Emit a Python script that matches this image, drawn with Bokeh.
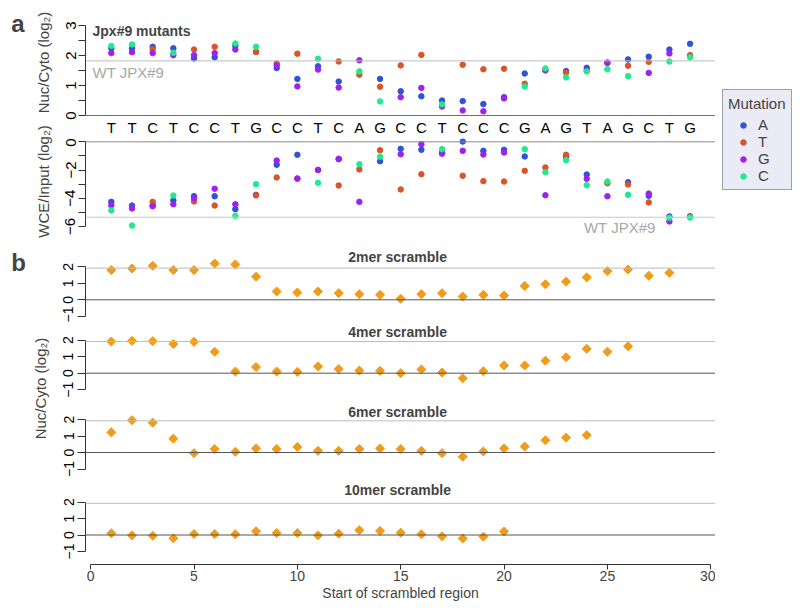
import math
import numpy as np
from bokeh.plotting import figure
from bokeh.models import Range1d, FixedTicker, Span, Label, Legend, LegendItem, LinearAxis
from bokeh.layouts import row, column
from bokeh.embed import file_html
from bokeh.resources import INLINE

FONT = "Liberation Sans"
nan = float("nan")

# ---------------- data ----------------
sequence = list("TTCTCCTGCCTCAGCCTCCCGAGTAGCTG")
positions = list(range(1, len(sequence) + 1))
mutations = ["A", "T", "G", "C"]
mut_colors = ["#2F52D6", "#D9542B", "#A020F0", "#1DEB8C"]

nuc_A = [2.24, 2.24, 2.29, 2.24, 1.90, 1.94, 2.32, 2.12, 1.58, 1.22, 1.64, 1.13, nan, 1.22, 0.81,
         0.64, 0.50, 0.48, 0.38, 0.61, 1.40, nan, 1.48, 1.59, nan, 1.87, 1.96, 2.20, 2.39]
nuc_T = [nan, nan, 2.21, nan, 2.20, 2.29, nan, 2.12, 1.73, 2.06, nan, 1.80, 1.36, 0.96, 1.67,
         2.02, nan, 1.69, 1.54, 1.56, 1.06, 1.50, 1.43, nan, 1.77, 1.66, 1.79, nan, 2.01]
nuc_G = [2.08, 2.11, 2.08, 2.01, 2.01, 2.08, 2.20, nan, 1.67, 0.97, 1.53, 0.93, 1.84, nan, 0.61,
         0.92, 0.30, 0.17, 0.14, 0.57, nan, 1.52, nan, 1.50, 1.75, nan, 1.42, 2.07, nan]
nuc_C = [2.32, 2.37, nan, 2.09, nan, nan, 2.40, 2.29, nan, nan, 1.89, nan, 1.47, 0.47, nan,
         nan, 0.37, nan, nan, nan, 0.97, 1.57, 1.27, 1.47, 1.54, 1.31, nan, 1.80, 1.94]

wce_A = [-4.26, -4.52, -4.50, -4.16, -3.86, -3.86, -4.78, -3.76, -1.63, -0.92, -2.00, -1.23, nan, -1.38, -0.50,
         -0.57, -0.78, 0.02, -0.64, -0.57, -1.04, nan, -1.04, -2.32, nan, -2.87, -3.83, -5.30, -5.28]
wce_T = [nan, nan, -4.26, nan, -4.23, -4.52, nan, -3.80, -2.53, -2.62, nan, -3.10, -1.96, -0.60, -3.38,
         -2.30, nan, -2.41, -2.79, -2.82, -2.06, -1.82, -0.92, nan, -2.94, -3.03, -4.30, nan, -5.33]
wce_G = [-4.50, -4.73, -4.57, -4.43, -4.00, -3.33, -4.43, nan, -1.33, -2.60, -1.99, -1.21, -4.26, nan, -0.88,
         -0.17, -0.84, -0.64, -0.90, -0.76, nan, -3.79, nan, -2.62, -3.86, nan, -3.67, -5.65, nan]
wce_C = [-4.87, -5.94, nan, -3.81, nan, nan, -5.25, -3.01, nan, nan, -2.91, nan, -1.59, -1.06, nan,
         nan, -0.52, nan, nan, nan, -0.52, -2.16, -1.30, -3.08, -2.82, -3.76, nan, -5.39, -5.37]

wt_nuc = 1.82
wt_wce = -5.35
wt_scramble = 1.92

scr2 = [1.80, 1.90, 2.06, 1.80, 1.80, 2.20, 2.14, 1.40, 0.50, 0.44, 0.50, 0.40, 0.34, 0.30,
        0.06, 0.34, 0.40, 0.20, 0.30, 0.26, 0.84, 0.94, 1.10, 1.36, 1.74, 1.84, 1.46, 1.64]
scr4 = [1.92, 1.96, 1.94, 1.77, 1.90, 1.30, 0.10, 0.37, 0.10, 0.08, 0.41, 0.25, 0.16,
        0.14, 0.00, 0.23, 0.04, -0.31, 0.12, 0.47, 0.47, 0.76, 0.97, 1.48, 1.30, 1.63]
scr6 = [1.22, 1.96, 1.81, 0.84, -0.04, 0.21, 0.04, 0.25, 0.21, 0.34, 0.10, 0.10,
        0.21, 0.25, 0.21, 0.10, -0.04, -0.25, 0.06, 0.25, 0.36, 0.74, 0.90, 1.05]
scr10 = [0.10, -0.02, -0.04, -0.20, 0.06, 0.06, 0.04, 0.23, 0.12, 0.12,
         -0.02, 0.08, 0.29, 0.25, 0.14, 0.04, -0.08, -0.21, -0.10, 0.21]
scramble_names = ["2mer scramble", "4mer scramble", "6mer scramble", "10mer scramble"]
scramble_values = [scr2, scr4, scr6, scr10]

x_ticks = [0, 5, 10, 15, 20, 25, 30]

ORANGE = "#F09C1A"
AXIS_C = "#333333"

# ---------------- helpers ----------------
TOTAL_H = 608
X_RANGE = (-0.25, 30.23)
FRAME_W = 630
LEFT = 31


def panel(frame_h, y_lo, y_hi, top=0, bottom=0):
    p = figure(frame_width=FRAME_W, frame_height=frame_h,
               x_range=Range1d(*X_RANGE), y_range=Range1d(y_lo, y_hi),
               x_axis_type=None, output_backend="svg", toolbar_location=None,
               min_border_left=LEFT, min_border_right=0, min_border_top=top,
               min_border_bottom=bottom, outline_line_color=None,
               background_fill_color="white", border_fill_color="white")
    p.grid.visible = False
    return p


def style_y(ax, ticks, labels, bounds, fs, tick_out=7, standoff=3):
    ax.ticker = FixedTicker(ticks=ticks)
    ax.major_label_overrides = {t: l for t, l in zip(ticks, labels)}
    ax.bounds = bounds
    ax.major_label_orientation = "vertical"
    ax.major_tick_out = tick_out
    ax.major_tick_in = 0
    ax.minor_tick_out = 0
    ax.minor_tick_in = 0
    ax.axis_line_color = AXIS_C
    ax.major_tick_line_color = AXIS_C
    ax.major_label_text_font = FONT
    ax.major_label_text_font_size = fs
    ax.major_label_text_color = "black"
    ax.major_label_standoff = standoff


def hline(p, loc, color):
    p.add_layout(Span(location=loc, dimension="width", line_color=color, line_width=1))


# ---------------- panel a (top): Nuc/Cyto ----------------
s_a1 = 30.0
zero_a1 = 115
a1 = panel(101, (zero_a1 - 118) / s_a1, (zero_a1 - 17) / s_a1, top=17, bottom=19)
style_y(a1.yaxis[0], [0, 0.5, 1, 1.5, 2, 2.5, 3], ["0", "", "1", "", "2", "", "3"], (0, 3), "15px")
hline(a1, 0, "#707070")
hline(a1, wt_nuc, "#BDBDBD")
for m, c, ys in zip(mutations, mut_colors, [nuc_A, nuc_T, nuc_G, nuc_C]):
    a1.scatter(x=positions, y=np.array(ys), size=5.5, color=c)
seq_axis = LinearAxis(ticker=FixedTicker(ticks=positions),
                      major_label_overrides={i: s for i, s in zip(positions, sequence)})
seq_axis.axis_line_color = None
seq_axis.major_tick_line_color = None
seq_axis.major_tick_out = 0
seq_axis.major_tick_in = 0
seq_axis.minor_tick_out = 0
seq_axis.minor_tick_in = 0
seq_axis.major_label_standoff = 0
seq_axis.major_label_text_font = FONT
seq_axis.major_label_text_font_size = "15px"
seq_axis.major_label_text_color = "black"
a1.add_layout(seq_axis, "below")
a1.add_layout(Label(x=0.09, y=2.83, text="Jpx#9 mutants", text_font=FONT, text_font_size="14px",
                    text_font_style="bold", text_baseline="middle", text_align="left"))
a1.add_layout(Label(x=0.09, y=1.45, text="WT JPX#9", text_font=FONT, text_font_size="15px",
                    text_color="#A8A8A8", text_baseline="middle", text_align="left"))

# ---------------- panel a (middle): WCE/Input ----------------
s_a2 = 14.1
zero_a2 = 140.3
a2 = panel(101, -(238 - zero_a2) / s_a2, (zero_a2 - 137) / s_a2)
style_y(a2.yaxis[0], [0, -1, -2, -3, -4, -5, -6], ["0", "", "\u22122", "", "\u22124", "", "\u22126"], (-6, 0), "15px")
hline(a2, 0, "#8A8A8A")
hline(a2, wt_wce, "#C8C8C8")
for m, c, ys in zip(mutations, mut_colors, [wce_A, wce_T, wce_G, wce_C]):
    a2.scatter(x=positions, y=np.array(ys), size=5.5, color=c)
a2.add_layout(Label(x=25.6, y=-6.08, text="WT JPX#9", text_font=FONT, text_font_size="15px",
                    text_color="#A8A8A8", text_baseline="middle", text_align="center"))

# ---------------- panel b ----------------
s_b = 16.5
b_geom = [  # (canvas top, frame bottom, zero position)
    (238, 321, 298.3),
    (321, 398, 371.7),
    (398, 477, 451.0),
    (477, 563, 533.5),
]
title_pos = [255, 330, 410, 488]
b_figs = []
for i, ((t, b, z), name, vals, tp) in enumerate(zip(b_geom, scramble_names, scramble_values, title_pos)):
    last = i == len(b_geom) - 1
    p = panel(int(b - t), -(b - z) / s_b, (z - t) / s_b, bottom=(TOTAL_H - 563) if last else 0)
    style_y(p.yaxis[0], [-1, 0, 1, 2], ["\u22121", "0", "1", "2"], (-1, 2), "14px", tick_out=8, standoff=4)
    hline(p, 0, "#555555")
    hline(p, wt_scramble, "#BDBDBD")
    starts = list(range(1, len(vals) + 1))
    p.scatter(x=starts, y=vals, marker="square", angle=math.pi / 4, size=6.4, color=ORANGE)
    p.add_layout(Label(x=14.85, y=(z - tp) / s_b, text=name, text_font=FONT, text_font_size="14px",
                       text_font_style="bold", text_align="center", text_baseline="middle"))
    if last:
        xa = LinearAxis(ticker=FixedTicker(ticks=x_ticks), bounds=(0, 30),
                        axis_label="Start of scrambled region")
        xa.major_tick_out = 5
        xa.major_tick_in = 0
        xa.minor_tick_out = 0
        xa.minor_tick_in = 0
        xa.axis_line_color = AXIS_C
        xa.major_tick_line_color = AXIS_C
        xa.major_label_text_font = FONT
        xa.major_label_text_font_size = "14px"
        xa.major_label_standoff = 1
        xa.axis_label_text_font = FONT
        xa.axis_label_text_font_size = "14px"
        xa.axis_label_text_font_style = "normal"
        xa.axis_label_standoff = 1
        p.add_layout(xa, "below")
    b_figs.append(p)

# ---------------- left strip with panel letters and y labels ----------------
strip = figure(frame_width=54, frame_height=TOTAL_H, x_range=Range1d(0, 54), y_range=Range1d(TOTAL_H, 0),
               x_axis_type=None, y_axis_type=None, output_backend="svg", toolbar_location=None,
               min_border=0, outline_line_color=None, background_fill_color="white",
               border_fill_color="white")
strip.grid.visible = False
strip.add_layout(Label(x=17.5, y=23, text="a", text_font=FONT, text_font_size="24px",
                       text_font_style="bold", text_align="center", text_baseline="alphabetic"))
strip.add_layout(Label(x=18, y=262, text="b", text_font=FONT, text_font_size="24px",
                       text_font_style="bold", text_align="center", text_baseline="alphabetic"))
for txt, xx, yy in [("Nuc/Cyto (log\u2082)", 42.5, 62), ("WCE/Input (log\u2082)", 42.5, 181),
                    ("Nuc/Cyto (log\u2082)", 40, 388)]:
    strip.add_layout(Label(x=xx, y=yy, text=txt, angle=math.pi / 2, text_font=FONT,
                           text_font_size="15px", text_align="center", text_baseline="middle"))

# ---------------- legend (renderers use the same data, outside the visible range) ----------------
leg = figure(frame_width=85, frame_height=TOTAL_H, x_range=Range1d(-10, -9), y_range=Range1d(-10, -9),
             x_axis_type=None, y_axis_type=None, output_backend="svg", toolbar_location=None,
             min_border=0, outline_line_color=None, background_fill_color="white",
             border_fill_color="white")
leg.grid.visible = False
items = []
for m, c, ys in zip(mutations, mut_colors, [nuc_A, nuc_T, nuc_G, nuc_C]):
    r = leg.scatter(x=positions, y=np.array(ys), size=5, color=c)
    items.append(LegendItem(label=m, renderers=[r]))
legend = Legend(items=items, location=(7, TOTAL_H - 93 - 97), title="Mutation", margin=0, padding=5,
                spacing=0, label_height=14, glyph_height=14, glyph_width=30, label_standoff=0,
                label_text_font=FONT, label_text_font_size="15px",
                title_text_font=FONT, title_text_font_size="15px", title_text_font_style="normal",
                title_standoff=4, border_line_color="#555555", background_fill_color="#EBEBF5",
                background_fill_alpha=1.0)
leg.add_layout(legend)

layout = row(strip, column(a1, a2, *b_figs), leg)

open("out.html", "w").write(file_html(layout, INLINE))
